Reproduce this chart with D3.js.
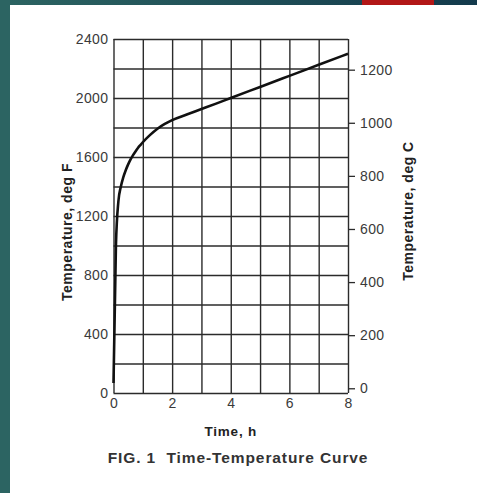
<!DOCTYPE html>
<html>
<head>
<meta charset="utf-8">
<script src="https://cdn.jsdelivr.net/npm/d3@7"></script>
<style>
  html, body { margin: 0; padding: 0; background: #fff; }
  svg { display: block; }
  text { font-family: "Liberation Sans", Arial, Helvetica, sans-serif; }
</style>
</head>
<body>
<div id="chart"></div>
<script>
// time in hours and furnace temperature in deg F
var timeH = [0, 0.083, 0.167, 0.25, 0.333, 0.417, 0.5, 0.583, 0.667, 0.75, 0.833, 0.917, 1, 1.25, 1.5, 1.75, 2, 2.5, 3, 3.5, 4, 5, 6, 7, 8];
var tempF = [68, 1000, 1300, 1399, 1462, 1510, 1550, 1584, 1613, 1638, 1661, 1681, 1700, 1750, 1792, 1824, 1850, 1888, 1925, 1962, 2000, 2075, 2150, 2225, 2300];

var xTickLabels = [0, 2, 4, 6, 8];
var fTickLabels = [0, 400, 800, 1200, 1600, 2000, 2400];
var cTickLabels = [0, 200, 400, 600, 800, 1000, 1200];
var xGrid = [0, 1, 2, 3, 4, 5, 6, 7, 8];
var fGrid = [0, 200, 400, 600, 800, 1000, 1200, 1400, 1600, 1800, 2000, 2200, 2400];

var width = 477, height = 493;
var plotL = 113.5, plotR = 348, plotT = 39, plotB = 393;

var svg = d3.select("#chart")
    .append("svg")
    .attr("width", width)
    .attr("height", height);

// page frame: teal strip on the left, banner strip at the top
var grad = svg.append("defs").append("linearGradient")
    .attr("id", "band").attr("x1", "0").attr("x2", "1");
grad.append("stop").attr("offset", "0").attr("stop-color", "#2c6462");
grad.append("stop").attr("offset", "1").attr("stop-color", "#133a4c");
svg.append("rect").attr("x", 0).attr("y", 0).attr("width", width).attr("height", 5).attr("fill", "url(#band)");
svg.append("rect").attr("x", 362).attr("y", 0).attr("width", 72).attr("height", 5).attr("fill", "#b21717");
svg.append("rect").attr("x", 0).attr("y", 0).attr("width", 10).attr("height", height).attr("fill", "#2c6462");

var x = d3.scaleLinear().domain([0, 8]).range([plotL, plotR]);
var y = d3.scaleLinear().domain([0, 2400]).range([plotB, plotT]);
var yC = d3.scaleLinear().domain([(0 - 32) / 1.8, (2400 - 32) / 1.8]).range([plotB, plotT]);
var fmt = d3.format("d");

// grid
var gridColor = "#2b2b2b";
svg.append("g")
    .attr("transform", "translate(0," + plotB + ")")
    .call(d3.axisBottom(x).tickValues(xGrid).tickSize(-(plotB - plotT)).tickFormat(""))
    .call(function(g) { g.select(".domain").remove(); })
    .selectAll("line").attr("stroke", gridColor).attr("stroke-width", 1.4);
svg.append("g")
    .attr("transform", "translate(" + plotL + ",0)")
    .call(d3.axisLeft(y).tickValues(fGrid).tickSize(-(plotR - plotL)).tickFormat(""))
    .call(function(g) { g.select(".domain").remove(); })
    .selectAll("line").attr("stroke", gridColor).attr("stroke-width", 1.4);

// left axis, deg F
var gL = svg.append("g")
    .attr("transform", "translate(" + plotL + ",0)")
    .call(d3.axisLeft(y).tickValues(fTickLabels).tickFormat(fmt).tickSize(0).tickPadding(5));
gL.select(".domain").remove();

// right axis, deg C
var gR = svg.append("g")
    .attr("transform", "translate(" + plotR + ",0)")
    .call(d3.axisRight(yC).tickValues(cTickLabels).tickFormat(fmt).tickSize(7).tickPadding(5));
gR.select(".domain").remove();
gR.selectAll("line").attr("stroke", gridColor).attr("stroke-width", 1.3);

// bottom axis, hours
var gB = svg.append("g")
    .attr("transform", "translate(0," + plotB + ")")
    .call(d3.axisBottom(x).tickValues(xTickLabels).tickFormat(fmt).tickSize(0).tickPadding(5));
gB.select(".domain").remove();

svg.selectAll(".tick text")
    .style("font-size", "14px")
    .style("letter-spacing", "0.4px")
    .attr("fill", "#3a3a3a");

// curve
var line = d3.line()
    .x(function(d, i) { return x(timeH[i]); })
    .y(function(d, i) { return y(tempF[i]); })
    .curve(d3.curveMonotoneX);
svg.append("path")
    .datum(tempF)
    .attr("d", line)
    .attr("fill", "none")
    .attr("stroke", "#111")
    .attr("stroke-width", 2.6);

// titles
svg.append("text")
    .attr("transform", "translate(72," + ((plotT + plotB) / 2 + 16) + ") rotate(-90)")
    .attr("text-anchor", "middle")
    .style("font-size", "14px")
    .style("font-weight", "bold")
    .style("letter-spacing", "0.5px")
    .attr("fill", "#222")
    .text("Temperature, deg F");
svg.append("text")
    .attr("transform", "translate(413," + ((plotT + plotB) / 2 - 5) + ") rotate(-90)")
    .attr("text-anchor", "middle")
    .style("font-size", "14px")
    .style("font-weight", "bold")
    .style("letter-spacing", "0.5px")
    .attr("fill", "#222")
    .text("Temperature, deg C");
svg.append("text")
    .attr("x", (plotL + plotR) / 2)
    .attr("y", 436)
    .attr("text-anchor", "middle")
    .style("font-size", "13.5px")
    .style("font-weight", "bold")
    .style("letter-spacing", "0.8px")
    .attr("fill", "#222")
    .text("Time, h");
svg.append("text")
    .attr("x", 238)
    .attr("y", 463)
    .attr("text-anchor", "middle")
    .style("font-size", "15.5px")
    .style("letter-spacing", "0.9px")
    .style("font-weight", "bold")
    .style("white-space", "pre")
    .attr("fill", "#333")
    .text("FIG. 1  Time-Temperature Curve");
</script>
</body>
</html>
